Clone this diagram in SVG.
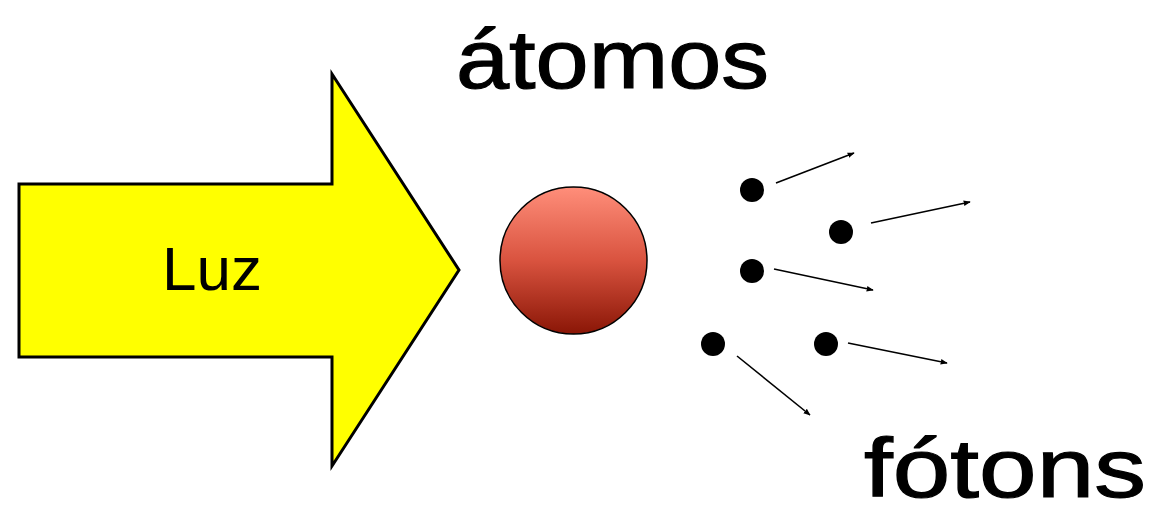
<svg xmlns="http://www.w3.org/2000/svg" width="1157" height="516" viewBox="0 0 1157 516">
<style>
.big{font-family:"Comic Sans MS","Liberation Sans",Arial,sans-serif;font-size:84px;fill:#000;stroke:#000;stroke-width:1.2}
.lbl{font-family:"Liberation Sans",Arial,sans-serif;font-size:62px;fill:#000}
.dot{fill:#000}
.conn line{stroke:#000;stroke-width:1.6;marker-end:url(#ah)}
</style>
<defs>
<linearGradient id="rg" x1="0" y1="0" x2="0" y2="1">
<stop offset="0" stop-color="#FF8E7A"/>
<stop offset="0.5" stop-color="#D9533F"/>
<stop offset="1" stop-color="#8A1606"/>
</linearGradient>
<marker id="ah" viewBox="0 0 10 10" refX="9" refY="5" markerWidth="7" markerHeight="7" markerUnits="userSpaceOnUse" orient="auto">
<path d="M0,1 L10,5 L0,9 Z" fill="#000"/>
</marker>
</defs>
<rect width="1157" height="516" fill="#fff"/>
<g id="luz">
<polygon points="19,184 332,184 332,74 459,270 332,466 332,357 19,357" fill="#FFFF00" stroke="#000" stroke-width="3"/>
<text class="lbl" x="212" y="290" text-anchor="middle">Luz</text>
</g>
<g id="atomo">
<circle cx="573.5" cy="260.5" r="73.5" fill="url(#rg)" stroke="#000" stroke-width="1.5"/>
</g>
<g id="label-atomos">
<text class="big" x="456" y="88" textLength="313" lengthAdjust="spacingAndGlyphs">átomos</text>
</g>
<g id="fotons">
<circle class="dot" cx="752" cy="190" r="12"/>
<circle class="dot" cx="841" cy="232" r="12"/>
<circle class="dot" cx="752" cy="271" r="12"/>
<circle class="dot" cx="713" cy="344" r="12"/>
<circle class="dot" cx="826" cy="344" r="12"/>
</g>
<g id="label-fotons">
<text class="big" x="864" y="497" textLength="282" lengthAdjust="spacingAndGlyphs">fótons</text>
</g>
<g id="connectors" class="conn">
<line x1="776" y1="183" x2="854" y2="153"/>
<line x1="871" y1="223" x2="970" y2="202"/>
<line x1="774" y1="269" x2="873" y2="290"/>
<line x1="737" y1="356" x2="810" y2="415"/>
<line x1="848" y1="343" x2="947" y2="363"/>
</g>
</svg>
